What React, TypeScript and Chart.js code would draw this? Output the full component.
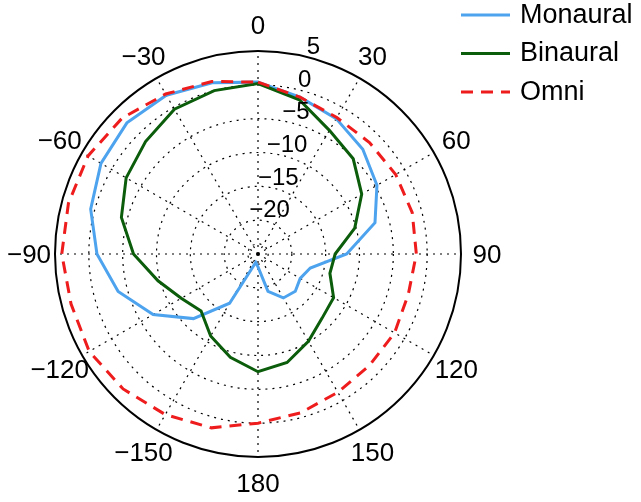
import React, { useEffect, useRef } from 'react';
import { Chart, registerables } from 'chart.js';

Chart.register(...registerables);

// Angles every 15 degrees, clockwise from the top (0). Only 30-degree multiples are labelled.
const ANGLE_LABELS = ['0', '', '30', '', '60', '', '90', '', '120', '', '150', '', '180', '', '\u2212150', '', '\u2212120', '', '\u221290', '', '\u221260', '', '\u221230', ''];

// Levels in dB at 0, 15, 30, ... 345 degrees
const MONAURAL = [0.4, -1.0, -1.9, -3.1, -4.7, -7.1, -11.9, -17.0, -17.8, -17.2, -17.5, -19.3, -23.1, -23.7, -16.6, -11.5, -7.1, -3.6, -1.2, 0.6, 1.8, 2.4, 2.1, 1.2];
const BINAURAL = [0.2, -1.4, -3.9, -5.1, -7.3, -10.2, -13.6, -14.0, -12.1, -11.6, -10.1, -8.4, -7.6, -9.2, -11.0, -13.1, -11.9, -9.7, -6.6, -4.1, -2.5, -1.5, -0.3, 0.0];
const OMNI = [0.4, -1.0, -1.7, -1.7, -1.5, -1.4, -1.6, -2.0, -1.7, -1.7, -1.4, -0.7, 0.0, 1.6, 2.4, 3.2, 3.8, 3.6, 4.0, 4.0, 4.0, 3.4, 2.3, 1.4];

const SERIES_NAMES = ['Monaural', 'Binaural', 'Omni'];

const R_MIN = -25;
const R_MAX = 5;
const RING_VALUES = [-23.5, -20, -15, -10, -5, 0, 5];
const RING_LABEL_VALUES = [5, 0, -5, -10, -15, -20];

const FONT = '"Liberation Sans", Arial, Helvetica, sans-serif';

const fmt = (v: number) => (v < 0 ? '\u2212' + Math.abs(v) : String(v));

// Ring (dB) labels along the 15-degree spoke, and angle labels centred outside the rim
const polarLabelsPlugin = {
  id: 'polarLabels',
  afterDraw(chart: any) {
    const scale = chart.scales.r;
    const ctx = chart.ctx;
    ctx.save();
    ctx.fillStyle = '#000';
    ctx.textAlign = 'center';
    ctx.textBaseline = 'middle';
    ctx.font = `24px ${FONT}`;
    RING_LABEL_VALUES.forEach((v) => {
      const d = scale.getDistanceFromCenterForValue(v);
      const p = scale.getPointPosition(1, d + 11);
      ctx.fillText(fmt(v), p.x, p.y);
    });
    ctx.font = `26px ${FONT}`;
    const outer = scale.getDistanceFromCenterForValue(R_MAX);
    chart.data.labels.forEach((lab: string, i: number) => {
      if (!lab) return;
      const p = scale.getPointPosition(i, outer + 26);
      ctx.fillText(lab, p.x, p.y + 2);
    });
    ctx.restore();
  },
};

const legendPlugin = {
  id: 'sideLegend',
  afterDraw(chart: any) {
    const ctx = chart.ctx;
    const x0 = chart.width - 180;
    ctx.save();
    ctx.font = `27px ${FONT}`;
    ctx.textBaseline = 'middle';
    ctx.textAlign = 'left';
    chart.data.datasets.forEach((ds: any, i: number) => {
      const y = 15 + i * 38.5;
      ctx.beginPath();
      ctx.strokeStyle = ds.borderColor;
      ctx.lineWidth = ds.borderWidth;
      ctx.setLineDash(ds.borderDash || []);
      ctx.moveTo(x0, y);
      ctx.lineTo(x0 + 49, y);
      ctx.stroke();
      ctx.setLineDash([]);
      ctx.fillStyle = '#000';
      ctx.fillText(ds.label, x0 + 59, y + 0.5);
    });
    ctx.restore();
  },
};

export default function App() {
  const canvasRef = useRef<HTMLCanvasElement | null>(null);

  useEffect(() => {
    if (!canvasRef.current) return;
    const chart = new Chart(canvasRef.current, {
      type: 'radar',
      data: {
        labels: ANGLE_LABELS,
        datasets: [
          {
            label: SERIES_NAMES[0],
            data: MONAURAL,
            borderColor: '#4da3ee',
            borderWidth: 3,
            fill: false,
            pointRadius: 0,
            pointHitRadius: 0,
            order: 3,
          },
          {
            label: SERIES_NAMES[1],
            data: BINAURAL,
            borderColor: '#0b5c0b',
            borderWidth: 3,
            fill: false,
            pointRadius: 0,
            pointHitRadius: 0,
            order: 2,
          },
          {
            label: SERIES_NAMES[2],
            data: OMNI,
            borderColor: '#ee1c1c',
            borderWidth: 3,
            borderDash: [12, 8],
            fill: false,
            pointRadius: 0,
            pointHitRadius: 0,
            order: 1,
          },
        ],
      },
      options: {
        animation: false,
        responsive: true,
        maintainAspectRatio: false,
        layout: { padding: { left: 55, right: 180, top: 51, bottom: 45 } },
        plugins: {
          legend: { display: false },
          tooltip: { enabled: false },
        },
        elements: { line: { tension: 0, borderJoinStyle: 'miter' } },
        scales: {
          r: {
            min: R_MIN,
            max: R_MAX,
            startAngle: 0,
            afterBuildTicks: (s: any) => {
              s.ticks = RING_VALUES.map((v) => ({ value: v }));
            },
            ticks: { display: false, stepSize: 5 },
            grid: {
              circular: true,
              color: '#000',
              lineWidth: (c: any) => (c.tick && c.tick.value === R_MAX ? 2 : 1.2),
            },
            border: {
              dash: (c: any) => (c.tick && c.tick.value === R_MAX ? [] : [2, 5]),
            },
            angleLines: {
              display: true,
              color: (c: any) => (c.index % 2 === 0 ? '#000' : 'rgba(0,0,0,0)'),
              lineWidth: 1.2,
              borderDash: [2, 5],
            },
            pointLabels: { display: false },
          },
        },
      } as any,
      plugins: [polarLabelsPlugin, legendPlugin],
    });
    return () => chart.destroy();
  }, []);

  return (
    <div style={{ position: 'absolute', left: 0, top: 0, width: 641, height: 502, background: '#fff' }}>
      <canvas ref={canvasRef} />
    </div>
  );
}
